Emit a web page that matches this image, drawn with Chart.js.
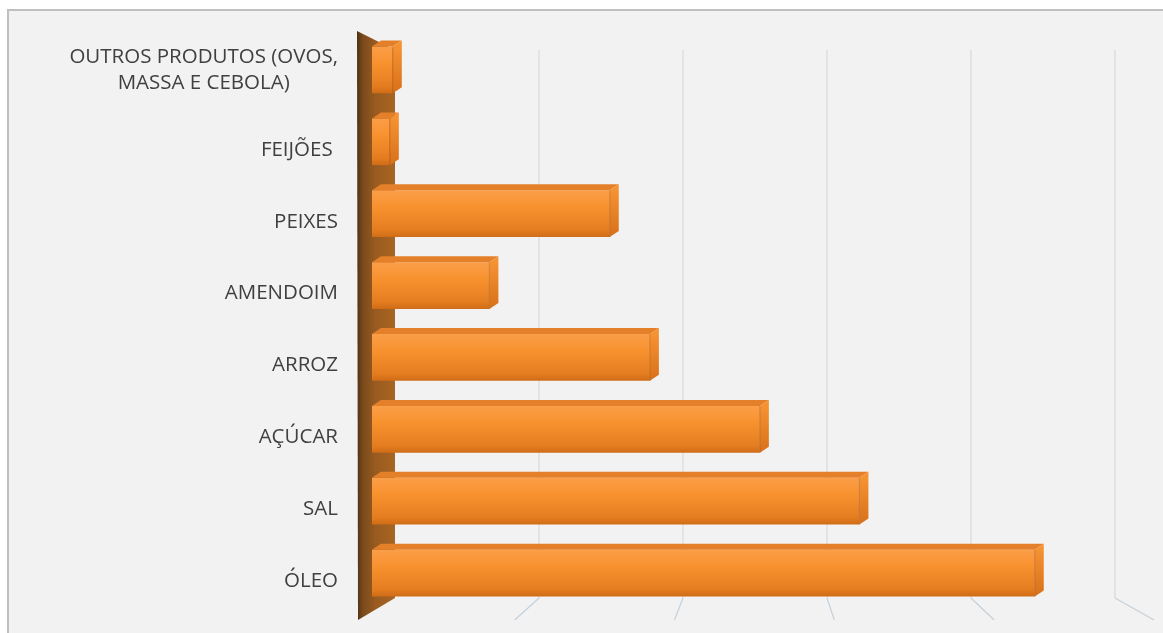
<!DOCTYPE html>
<html lang="pt">
<head>
  <meta charset="UTF-8">
  <title>Produtos</title>
  <script src="https://cdn.jsdelivr.net/npm/chart.js"></script>
  <style>
    body { margin: 0; background: #fff; }
    canvas { display: block; }
  </style>
</head>
<body>
  <canvas id="myChart" width="1163" height="633"></canvas>

  <script>
    // Categories from top to bottom, values on a 0-50 axis
    const categories = [
      ['OUTROS PRODUTOS (OVOS,', 'MASSA E CEBOLA)'],
      'FEIJÕES ',
      'PEIXES',
      'AMENDOIM',
      'ARROZ',
      'AÇÚCAR',
      'SAL',
      'ÓLEO'
    ];
    const values = [1.4, 1.2, 16, 7.9, 18.7, 26.1, 32.8, 44.6];
    const gridTicks = [10, 20, 30, 40, 50];

    const BAR_PCT = 0.65;
    const DEPTH_X = 9;   // 3D side face offset
    const DEPTH_Y = 6;

    // front face shading, lighter at the top
    function barFill(c) {
      const chart = c.chart;
      const y = chart.scales && chart.scales.y;
      const area = chart.chartArea;
      if (!y || !area) return '#f28b2f';
      const step = (area.bottom - area.top) / categories.length;
      const mid = y.getPixelForValue(c.dataIndex);
      const half = step * BAR_PCT / 2;
      const g = chart.ctx.createLinearGradient(0, mid - half, 0, mid + half);
      g.addColorStop(0, '#fb9e48');
      g.addColorStop(0.35, '#f8922f');
      g.addColorStop(0.85, '#e47d20');
      g.addColorStop(1, '#cf6c17');
      return g;
    }

    // panel background, back-wall gridlines and left wall
    const backdrop = {
      id: 'backdrop',
      beforeDraw(chart) {
        const ctx = chart.ctx;
        ctx.save();
        ctx.fillStyle = '#ffffff';
        ctx.fillRect(0, 0, chart.width, chart.height);
        ctx.fillStyle = '#f2f2f2';
        ctx.fillRect(8, 10, chart.width, chart.height);
        ctx.strokeStyle = '#bfbfbf';
        ctx.lineWidth = 2;
        ctx.beginPath();
        ctx.moveTo(8, chart.height);
        ctx.lineTo(8, 10);
        ctx.lineTo(chart.width, 10);
        ctx.stroke();
        ctx.restore();
      },
      beforeDatasetsDraw(chart) {
        const ctx = chart.ctx;
        const area = chart.chartArea;
        const x = chart.scales.x;
        const back = px => area.left + 23 + (px - area.left) * 0.969;
        const wallTop = area.top + 16;
        const floorBack = area.bottom - 11;
        const floorFront = area.bottom + 11;

        ctx.save();
        // gridlines on the back wall, then down across the floor
        ctx.lineWidth = 1.2;
        gridTicks.forEach(v => {
          const bx = back(x.getPixelForValue(v));
          ctx.strokeStyle = '#d9d9d9';
          ctx.beginPath();
          ctx.moveTo(bx, wallTop);
          ctx.lineTo(bx, floorBack);
          ctx.stroke();
          ctx.strokeStyle = '#c5d0da';
          ctx.beginPath();
          ctx.moveTo(bx, floorBack);
          ctx.lineTo(bx + (bx - 760) * 0.11, floorFront);
          ctx.stroke();
        });

        // left side wall
        const l = area.left - 15;
        const r = area.left + 23;
        const wg = ctx.createLinearGradient(l, 0, r, 0);
        wg.addColorStop(0, '#4e3015');
        wg.addColorStop(0.15, '#7a4a1c');
        wg.addColorStop(0.5, '#9a5b20');
        wg.addColorStop(1, '#a86524');
        ctx.fillStyle = wg;
        ctx.beginPath();
        ctx.moveTo(l, area.top - 3);
        ctx.lineTo(r, wallTop);
        ctx.lineTo(r, floorBack);
        ctx.lineTo(l + 1, floorFront);
        ctx.closePath();
        ctx.fill();
        ctx.restore();
      },
      afterDatasetsDraw(chart) {
        const ctx = chart.ctx;
        const meta = chart.getDatasetMeta(0);
        ctx.save();
        meta.data.forEach(bar => {
          const p = bar.getProps(['x', 'y', 'base', 'height'], true);
          const top = p.y - p.height / 2;
          const bottom = p.y + p.height / 2;
          const x0 = p.base;
          const x1 = p.x;
          // top face
          ctx.fillStyle = '#e5802a';
          ctx.beginPath();
          ctx.moveTo(x0, top);
          ctx.lineTo(x1, top);
          ctx.lineTo(x1 + DEPTH_X, top - DEPTH_Y);
          ctx.lineTo(x0 + DEPTH_X, top - DEPTH_Y);
          ctx.closePath();
          ctx.fill();
          // right side face
          const sg = ctx.createLinearGradient(0, top, 0, bottom);
          sg.addColorStop(0, '#f59232');
          sg.addColorStop(1, '#d87019');
          ctx.fillStyle = sg;
          ctx.beginPath();
          ctx.moveTo(x1, top);
          ctx.lineTo(x1 + DEPTH_X, top - DEPTH_Y);
          ctx.lineTo(x1 + DEPTH_X, bottom - DEPTH_Y);
          ctx.lineTo(x1, bottom);
          ctx.closePath();
          ctx.fill();
          ctx.strokeStyle = 'rgba(160, 80, 20, 0.45)';
          ctx.lineWidth = 1;
          ctx.beginPath();
          ctx.moveTo(x1, top);
          ctx.lineTo(x1, bottom);
          ctx.stroke();
        });
        ctx.restore();
      },
      // category labels, right aligned next to the wall
      afterDraw(chart) {
        const ctx = chart.ctx;
        const y = chart.scales.y;
        const right = chart.chartArea.left - 34;
        ctx.save();
        ctx.font = '20.5px "Open Sans"';
        ctx.fillStyle = '#404040';
        ctx.textBaseline = 'middle';
        categories.forEach((label, i) => {
          const cy = y.getPixelForValue(i);
          if (Array.isArray(label)) {
            const w = Math.max(...label.map(t => ctx.measureText(t).width));
            ctx.textAlign = 'center';
            const lh = 26;
            const y0 = cy - (label.length - 1) * lh / 2;
            label.forEach((t, k) => ctx.fillText(t, right - w / 2, y0 + k * lh));
          } else {
            ctx.textAlign = 'right';
            ctx.fillText(label, right, cy + 8);
          }
        });
        ctx.restore();
      }
    };

    const ctx = document.getElementById('myChart').getContext('2d');
    const myChart = new Chart(ctx, {
      type: 'bar',
      data: {
        labels: categories,
        datasets: [{
          data: values,
          backgroundColor: barFill,
          borderWidth: 0,
          barPercentage: BAR_PCT,
          categoryPercentage: 1
        }]
      },
      options: {
        indexAxis: 'y',
        responsive: false,
        animation: false,
        layout: { padding: { left: 372, right: 48, top: 34, bottom: 24 } },
        scales: {
          x: { display: false, min: 0, max: 50 },
          y: { display: false }
        },
        plugins: {
          legend: { display: false },
          tooltip: { enabled: false }
        }
      },
      plugins: [backdrop]
    });
  </script>
</body>
</html>
